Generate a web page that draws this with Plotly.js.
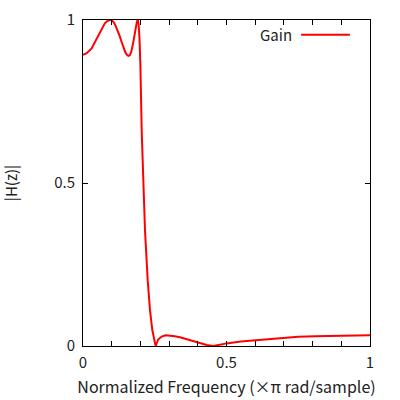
<!DOCTYPE html>
<html>
<head>
<meta charset="utf-8">
<script src="https://cdn.plot.ly/plotly-3.0.1.min.js"></script>
<style>
  html, body { margin: 0; padding: 0; background: #fff; }
  #plot { width: 400px; height: 400px; }
</style>
</head>
<body>
<div id="plot"></div>
<script>
// normalized frequency (x pi rad/sample) and gain
const freq = [0, 0.013, 0.03, 0.048, 0.065, 0.076, 0.085, 0.092, 0.098, 0.104,
  0.111, 0.119, 0.127, 0.134, 0.14, 0.147, 0.153, 0.158, 0.163, 0.168,
  0.174, 0.179, 0.184, 0.188, 0.191, 0.194, 0.197, 0.2, 0.2045, 0.21,
  0.216, 0.2254, 0.2334, 0.2415, 0.247, 0.253, 0.262, 0.274, 0.288, 0.303,
  0.32, 0.338, 0.36, 0.384, 0.41, 0.431, 0.454, 0.475, 0.5, 0.55,
  0.6, 0.65, 0.704, 0.75, 0.808, 0.86, 0.913, 0.96, 1]
const gain = [0.893, 0.898, 0.913, 0.944, 0.975, 0.99, 0.997, 1.0, 1.0, 0.996,
  0.987, 0.972, 0.953, 0.934, 0.918, 0.902, 0.893, 0.89, 0.892, 0.902,
  0.926, 0.952, 0.98, 0.996, 1.0, 0.985, 0.94, 0.86, 0.66, 0.5,
  0.356, 0.202, 0.11, 0.049, 0.022, 0.0, 0.02, 0.029, 0.033, 0.032,
  0.03, 0.027, 0.021, 0.014, 0.007, 0.003, 0.0, 0.004, 0.008, 0.014,
  0.018, 0.022, 0.026, 0.028, 0.03, 0.031, 0.032, 0.033, 0.033]
const xTicks = [0, 0.5, 1]
const xTickText = ["0", "0.5", "1"]
const yTicks = [0, 0.5, 1]
const yTickText = ["0", "0.5", "1"]
const seriesName = "Gain"

const font = "'Noto Sans CJK JP', 'DejaVu Sans', sans-serif"

const data = [{
    type: "scatter",
    mode: "lines",
    name: seriesName,
    x: freq,
    y: gain,
    line: { color: "#ff0000", width: 2 },
    showlegend: false
}]

const axisStyle = {
    showline: true,
    linecolor: "#000",
    linewidth: 1,
    mirror: "ticks",
    ticks: "inside",
    ticklen: 5,
    tickwidth: 1,
    tickcolor: "#000",
    showgrid: false,
    zeroline: false,
    tickfont: { size: 15, color: "#222" }
}

const layout = {
    width: 400,
    height: 400,
    margin: { l: 83, r: 30, t: 20, b: 54 },
    font: { family: font, color: "#222" },
    paper_bgcolor: "#fff",
    plot_bgcolor: "#fff",
    xaxis: Object.assign({}, axisStyle, {
        range: [0, 1],
        tickmode: "array",
        tickvals: xTicks,
        ticktext: xTickText,
        ticklabelstandoff: 3,
        minor: { dtick: 0.1, ticks: "inside", ticklen: 5, tickcolor: "#000", showgrid: false },
        title: { text: "Normalized Frequency (×π rad/sample)", font: { size: 16 }, standoff: 10 }
    }),
    yaxis: Object.assign({}, axisStyle, {
        range: [0, 1],
        tickmode: "array",
        tickvals: yTicks,
        ticktext: yTickText,
        ticklabelstandoff: 4,
        title: { text: "|H(z)|", font: { size: 15 }, standoff: 32 }
    }),
    annotations: [{
        xref: "paper", yref: "paper",
        x: 0.735, y: 0.955,
        xanchor: "right", yanchor: "middle",
        text: seriesName,
        showarrow: false,
        font: { size: 15, color: "#222" }
    }],
    shapes: [{
        type: "line",
        xref: "paper", yref: "paper",
        x0: 0.76, x1: 0.93, y0: 0.955, y1: 0.955,
        line: { color: "#ff0000", width: 2 }
    }]
}

Plotly.newPlot("plot", data, layout, { staticPlot: true })
</script>
</body>
</html>
